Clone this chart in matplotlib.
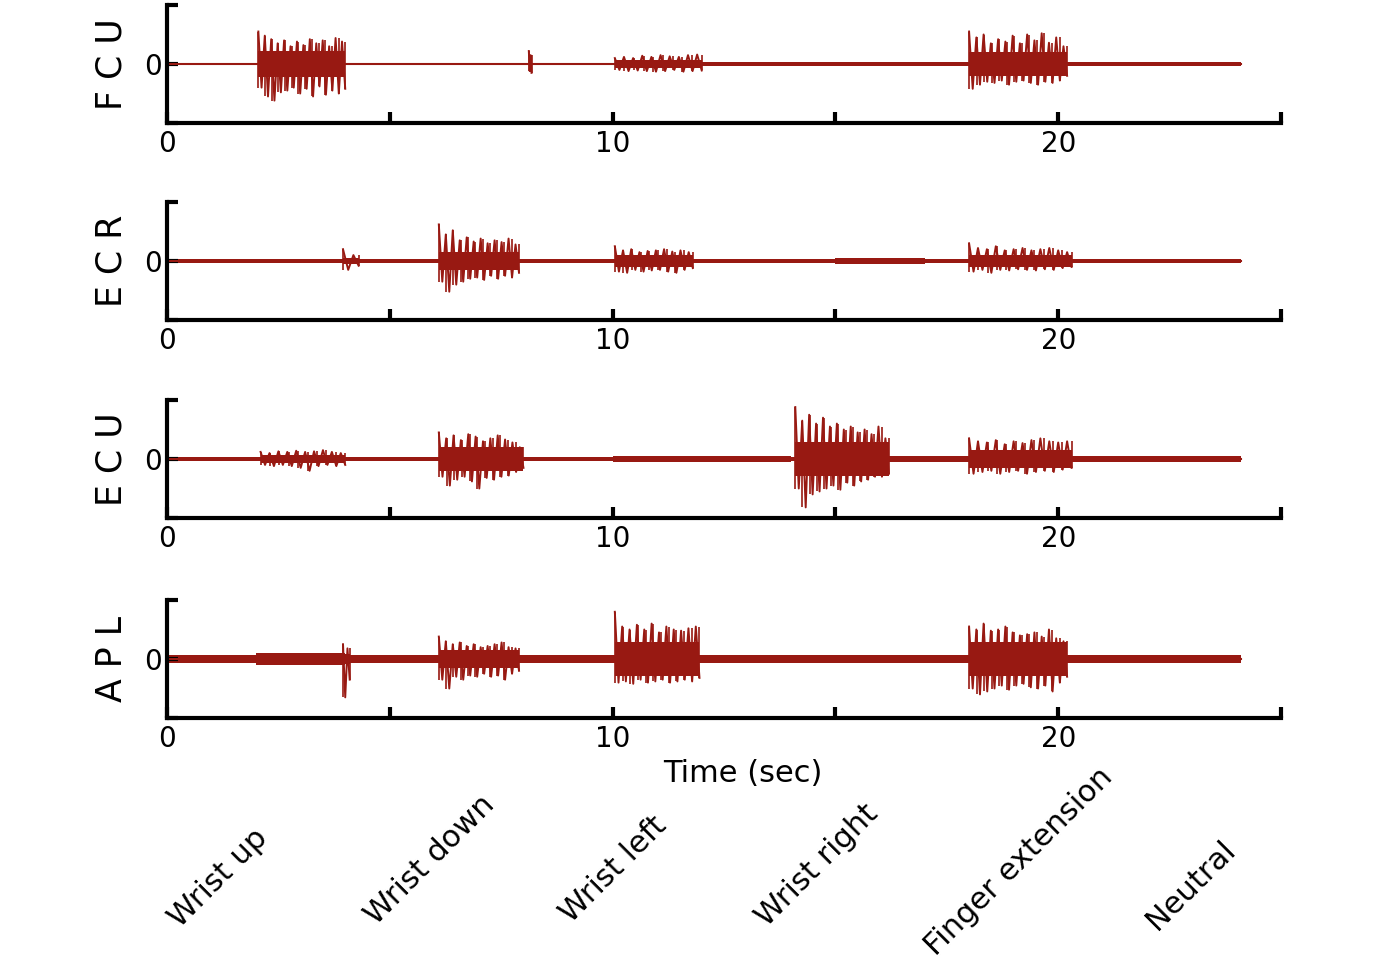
import numpy as np
import matplotlib.pyplot as plt

plt.rcParams['font.family'] = ['DejaVu Sans']

# channel names and recording length (sec)
channels = ['F C U', 'E C R', 'E C U', 'A P L']
t_end = 24.1

# resting noise level of each channel (fraction of axis half-height)
baseline = [0.02, 0.035, 0.035, 0.06]

# bursts per channel: (start, end, core amplitude, peak ups, peak downs)
fcu_bursts = [
    (2.05, 4.0, 0.22,
     [0.55, 0.48, 0.42, 0.35, 0.40, 0.30, 0.38, 0.32, 0.42, 0.35, 0.40, 0.30, 0.44, 0.38],
     [0.40, 0.55, 0.62, 0.48, 0.45, 0.40, 0.50, 0.42, 0.55, 0.38, 0.52, 0.45, 0.50, 0.42]),
    (8.12, 8.18, 0.05, [0.22, 0.15], [0.12, 0.15]),
    (10.05, 12.0, 0.07,
     [0.10, 0.12, 0.10, 0.14, 0.12, 0.15, 0.13, 0.12, 0.15, 0.16],
     [0.10, 0.12, 0.11, 0.12, 0.13, 0.12, 0.10, 0.13, 0.12, 0.11]),
    (12.0, 24.1, 0.03, [], []),
    (18.0, 20.2, 0.2,
     [0.55, 0.45, 0.50, 0.35, 0.42, 0.38, 0.48, 0.35, 0.50, 0.40, 0.52, 0.36, 0.45, 0.30],
     [0.42, 0.35, 0.30, 0.32, 0.28, 0.35, 0.30, 0.28, 0.32, 0.35, 0.30, 0.32, 0.28, 0.20]),
]
ecr_bursts = [
    (3.95, 4.3, 0.05, [0.20, 0.10], [0.15, 0.08]),
    (6.1, 7.9, 0.16,
     [0.62, 0.45, 0.52, 0.35, 0.40, 0.33, 0.38, 0.30, 0.35, 0.32, 0.38, 0.28],
     [0.35, 0.52, 0.40, 0.35, 0.30, 0.28, 0.32, 0.25, 0.30, 0.25, 0.28, 0.20]),
    (10.05, 11.8, 0.1,
     [0.25, 0.18, 0.20, 0.15, 0.17, 0.18, 0.20, 0.16, 0.18, 0.15],
     [0.18, 0.20, 0.15, 0.18, 0.16, 0.15, 0.18, 0.20, 0.15, 0.12]),
    (15.0, 17.0, 0.05, [], []),
    (18.0, 20.3, 0.1,
     [0.30, 0.22, 0.20, 0.25, 0.18, 0.20, 0.22, 0.18, 0.20, 0.22, 0.18, 0.15],
     [0.18, 0.15, 0.20, 0.15, 0.16, 0.14, 0.15, 0.16, 0.14, 0.15, 0.12, 0.10]),
]
ecu_bursts = [
    (2.1, 4.0, 0.07,
     [0.12, 0.10, 0.13, 0.12, 0.14, 0.12, 0.13, 0.15, 0.12, 0.10],
     [0.10, 0.12, 0.10, 0.12, 0.15, 0.20, 0.12, 0.10, 0.12, 0.10]),
    (6.1, 8.0, 0.2,
     [0.45, 0.35, 0.40, 0.32, 0.42, 0.38, 0.30, 0.35, 0.40, 0.33, 0.28, 0.20],
     [0.30, 0.45, 0.35, 0.30, 0.38, 0.50, 0.32, 0.35, 0.30, 0.28, 0.22, 0.15]),
    (10.0, 14.0, 0.055, [], []),
    (14.1, 16.2, 0.28,
     [0.88, 0.65, 0.75, 0.60, 0.70, 0.55, 0.60, 0.50, 0.55, 0.45, 0.50, 0.42, 0.55, 0.35],
     [0.50, 0.82, 0.60, 0.55, 0.50, 0.45, 0.52, 0.40, 0.45, 0.38, 0.35, 0.30, 0.30, 0.25]),
    (16.2, 18.0, 0.05, [], []),
    (18.0, 20.3, 0.15,
     [0.35, 0.30, 0.28, 0.32, 0.25, 0.30, 0.27, 0.32, 0.35, 0.30, 0.28, 0.30],
     [0.25, 0.22, 0.20, 0.25, 0.22, 0.20, 0.25, 0.22, 0.20, 0.22, 0.18, 0.15]),
    (20.3, 24.1, 0.045, [], []),
]
apl_bursts = [
    (2.0, 4.0, 0.1, [], []),
    (3.95, 4.1, 0.08, [0.25, 0.18], [0.65, 0.35]),
    (6.1, 7.9, 0.16,
     [0.38, 0.30, 0.25, 0.28, 0.22, 0.25, 0.20, 0.22, 0.25, 0.28, 0.20, 0.18],
     [0.35, 0.50, 0.30, 0.35, 0.28, 0.30, 0.25, 0.30, 0.28, 0.35, 0.25, 0.20]),
    (10.05, 11.95, 0.28,
     [0.80, 0.55, 0.50, 0.58, 0.50, 0.60, 0.45, 0.55, 0.50, 0.48, 0.52, 0.55],
     [0.40, 0.38, 0.42, 0.35, 0.40, 0.38, 0.35, 0.40, 0.38, 0.35, 0.38, 0.32]),
    (14.5, 17.0, 0.075, [], []),
    (18.0, 20.2, 0.28,
     [0.55, 0.50, 0.60, 0.48, 0.50, 0.55, 0.45, 0.40, 0.42, 0.45, 0.38, 0.50, 0.35, 0.30],
     [0.50, 0.60, 0.55, 0.50, 0.45, 0.52, 0.45, 0.42, 0.48, 0.50, 0.45, 0.55, 0.40, 0.30]),
]
all_bursts = [fcu_bursts, ecr_bursts, ecu_bursts, apl_bursts]

# movement cues written under the time axis
movements = ['Wrist up', 'Wrist down', 'Wrist left', 'Wrist right', 'Finger extension', 'Neutral']
move_x = [218, 430, 613, 817, 1019, 1191]   # label centres, px
move_y = [878, 860, 870, 865, 862, 885]

W, H = 1398, 976
col = '#981912'
fig = plt.figure(figsize=(W / 100, H / 100), dpi=100)

tops = [5, 202, 400, 600]
for i, name in enumerate(channels):
    top = tops[i]
    ax = fig.add_axes([167 / W, 1 - (top + 118) / H, 1114 / W, 118 / H])

    # resting noise and zero line
    ax.fill_between([0, t_end], -baseline[i], baseline[i], color=col, lw=0)
    ax.plot([0, t_end], [0, 0], color=col, lw=1.5)

    for s, e, core, ups, downs in all_bursts[i]:
        ax.fill_between([s, e], -core, core, color=col, lw=0)
        if len(ups):
            # zigzag between the read peak values
            ys = np.column_stack([ups, -np.array(downs)]).ravel()
            ts = np.linspace(s, e, len(ys))
            ax.plot(ts, ys, color=col, lw=1.4)
            ax.vlines(np.linspace(s, e, len(ups)), -np.array(downs), np.array(ups),
                      color=col, lw=1.2)

    ax.set_xlim(0, 25)
    ax.set_ylim(-1, 1)
    for sp in ['top', 'right']:
        ax.spines[sp].set_visible(False)
    for sp in ['left', 'bottom']:
        ax.spines[sp].set_linewidth(3)
    ax.set_xticks([0, 5, 10, 15, 20, 25])
    ax.set_xticklabels(['0', '', '10', '', '20', ''])
    ax.set_yticks([-1, 0, 1])
    ax.set_yticklabels(['', '0', ''])
    ax.tick_params(direction='in', length=8, width=3, labelsize=20, pad=5)
    ax.tick_params(axis='y', pad=4)

    fig.text(112 / W, 1 - (top + 59) / H, name, rotation=90,
             ha='center', va='center', fontsize=25)

fig.text(743 / W, 1 - 773 / H, 'Time (sec)', ha='center', va='center', fontsize=22)

for lab, x, y in zip(movements, move_x, move_y):
    fig.text(x / W, 1 - y / H, lab, rotation=45, ha='center', va='center', fontsize=22)

fig.savefig('out.png', dpi=100, facecolor='white')
